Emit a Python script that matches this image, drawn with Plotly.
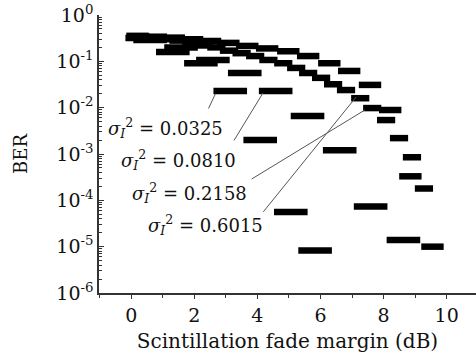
import numpy as np
import plotly.graph_objects as go

# ---- data ----
s1_x = [0.35, 1.32, 2.21, 3.14, 4.09, 5.06, 5.83]
s1_ber = [0.32, 0.16, 0.091, 0.023, 2.0e-3, 5.6e-5, 8.3e-6]

s2_x = [0.6, 1.58, 2.59, 3.60, 4.58, 5.59, 6.61, 7.59, 8.63]
s2_ber = [0.29, 0.20, 0.107, 0.056, 0.023, 6.6e-3, 1.2e-3, 7.4e-5, 1.4e-5]

s3_x = [0.2, 0.78, 1.35, 1.93, 2.5, 3.08, 3.68, 4.31, 4.98, 5.61, 6.28, 6.91, 7.57, 8.21, 8.85, 9.55]
s3_ber = [0.355, 0.34, 0.325, 0.30, 0.275, 0.25, 0.215, 0.19, 0.165, 0.13, 0.091, 0.062, 0.031, 8.9e-3, 3.3e-4, 1.0e-5]

s4_x = [0.3, 0.7, 1.1, 1.5, 1.9, 2.3, 2.7, 3.1, 3.5, 3.93, 4.35, 4.82, 5.23, 5.61,
        6.02, 6.40, 6.81, 7.26, 7.64, 8.08, 8.49, 8.90, 9.28]
s4_ber = [0.34, 0.32, 0.30, 0.28, 0.25, 0.22, 0.20, 0.17, 0.15, 0.13, 0.107, 0.091, 0.072,
          0.056, 0.044, 0.032, 0.024, 0.016, 9.8e-3, 5.4e-3, 2.2e-3, 8.5e-4, 1.8e-4]

sigma_labels = ["0.0325", "0.0810", "0.2158", "0.6015"]

ytick_vals = [1, 1e-1, 1e-2, 1e-3, 1e-4, 1e-5, 1e-6]
ytick_text = ["10<sup>0</sup>", "10<sup>-1</sup>", "10<sup>-2</sup>", "10<sup>-3</sup>",
              "10<sup>-4</sup>", "10<sup>-5</sup>", "10<sup>-6</sup>"]

# ---- figure ----
FONT = "DejaVu Serif"
fig = go.Figure()

def dash_trace(x, y, size, name):
    fig.add_trace(go.Scatter(
        x=x, y=y, mode="markers", name=name,
        marker=dict(symbol="line-ew", size=size, color="black",
                    line=dict(color="black", width=6.5)),
        showlegend=False))

dash_trace(s3_x, s3_ber, 16, sigma_labels[2])
dash_trace(s4_x, s4_ber, 13, sigma_labels[3])
dash_trace(s1_x, s1_ber, 24, sigma_labels[0])
dash_trace(s2_x, s2_ber, 24, sigma_labels[1])

# labels and leader lines
label_pos = [(1.10, -2.44), (1.49, -3.13), (1.86, -3.84), (2.34, -4.54)]
leader_start = [(2.43, -2.05), (3.23, -2.74), (3.77, -3.56), (4.15, -4.28)]
leader_end = [(2.67, -1.70), (4.18, -1.68), (7.41, -2.05), (7.13, -1.77)]

for lab, (lx, ly), (sx, sy), (ex, ey) in zip(sigma_labels, label_pos, leader_start, leader_end):
    fig.add_annotation(x=ex, y=ey, ax=sx, ay=sy, xref="x", yref="y", axref="x", ayref="y",
                       text="", showarrow=True, arrowhead=0, arrowwidth=1, arrowcolor="#555")
    fig.add_annotation(x=lx, y=ly, xref="x", yref="y", showarrow=False,
                       text="<i>σ</i><sub><i>I</i></sub><sup>2</sup> = " + lab,
                       font=dict(family=FONT, size=18, color="#111"),
                       bgcolor="rgba(255,255,255,0)")

fig.update_layout(
    width=476, height=364,
    margin=dict(l=99, r=0, t=15, b=71),
    paper_bgcolor="white", plot_bgcolor="white",
    font=dict(family=FONT, size=19, color="#111"),
    showlegend=False,
)
fig.update_xaxes(
    range=[-1.02, 10.93], tickmode="linear", tick0=0, dtick=2,
    showline=True, linecolor="#333", linewidth=1.5, showgrid=False, zeroline=False,
    ticks="outside", ticklen=4, tickwidth=1.2, tickcolor="#333",
    tickfont=dict(family=FONT, size=19),
    minor=dict(ticks="outside", dtick=1, tick0=0, ticklen=3, tickcolor="#333", showgrid=False),
    title=dict(text="Scintillation fade margin (dB)", font=dict(family=FONT, size=20), standoff=9),
    automargin=False,
)
fig.update_yaxes(
    type="log", range=[-6, 0], tickmode="array", tickvals=ytick_vals, ticktext=ytick_text,
    showline=True, linecolor="#333", linewidth=1.5, showgrid=False, zeroline=False,
    ticks="inside", ticklen=5, tickwidth=1.2, tickcolor="#333",
    tickfont=dict(family=FONT, size=19),
    minor=dict(ticks="inside", dtick="D1", ticklen=3, tickcolor="#333", showgrid=False),
    title=dict(text="BER", font=dict(family=FONT, size=18), standoff=24),
    automargin=False,
)

fig.write_html("out.html")
